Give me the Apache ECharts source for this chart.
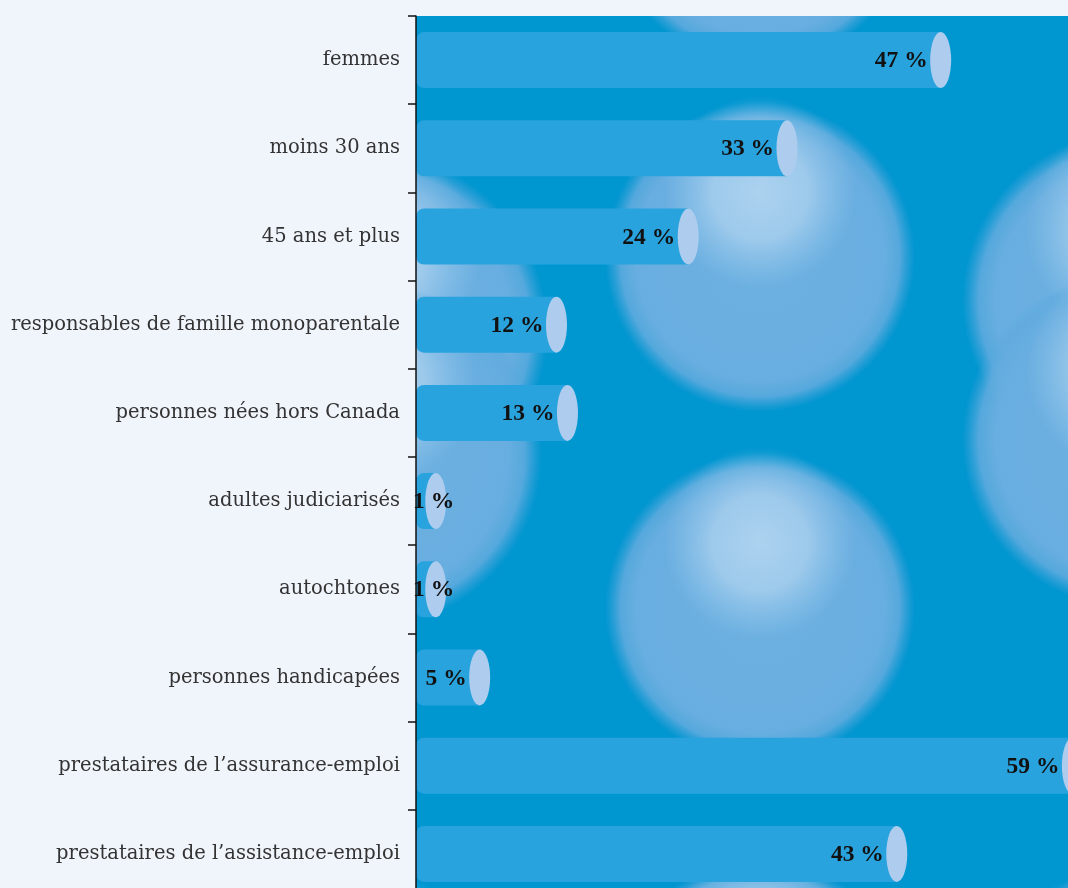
<!DOCTYPE html>
<html>
<head>
<meta charset="utf-8">
<script src="https://cdn.jsdelivr.net/npm/echarts@6/dist/echarts.min.js"></script>
<style>
html,body{margin:0;padding:0;background:#f0f4fb;}
#chart{width:1068px;height:888px;}
</style>
</head>
<body>
<div id="chart"></div>
<script>
const categories = [
  'femmes',
  'moins 30 ans',
  '45 ans et plus',
  'responsables de famille monoparentale',
  'personnes nées hors Canada',
  'adultes judiciarisés',
  'autochtones',
  'personnes handicapées',
  'prestataires de l’assurance-emploi',
  'prestataires de l’assistance-emploi'
];
const values = [47, 33, 24, 12, 13, 1, 1, 5, 59, 43];
const valueSuffix = ' %';

const X_MIN = -0.8, X_MAX = 58.6;
const GRID = {left: 416, right: 0, top: 16, height: 882, outerBoundsMode: 'none', containLabel: false};
const LABEL_FONT = 'bold 23.5px "Liberation Serif"';

const measureCtx = document.createElement('canvas').getContext('2d');
measureCtx.font = LABEL_FONT;

// decorative background spheres (ornamental only)
const spheres = [
  {cx: 760, cy: -90, r: 155},
  {cx: 760, cy: 257, r: 155},
  {cx: 370, cy: 330, r: 178},
  {cx: 370, cy: 455, r: 172},
  {cx: 1130, cy: 300, r: 168},
  {cx: 1130, cy: 440, r: 168},
  {cx: 760, cy: 608, r: 155},
  {cx: 760, cy: 1015, r: 155},
  {cx: 380, cy: 1060, r: 178},
  {cx: 1130, cy: 1040, r: 172}
];

const graphics = [
  {type: 'rect', z: -10, shape: {x: GRID.left, y: GRID.top, width: 1068 - GRID.left, height: 900}, style: {fill: '#0096d0'}}
];
spheres.forEach(s => {
  graphics.push({
    type: 'circle', z: -10,
    shape: {cx: s.cx, cy: s.cy, r: s.r},
    style: {
      fill: {
        type: 'radial', x: 0.5, y: 0.5, r: 0.5,
        colorStops: [
          {offset: 0, color: '#6db1e1'},
          {offset: 0.8, color: '#69aee0'},
          {offset: 0.9, color: 'rgba(100,172,223,0.85)'},
          {offset: 1, color: 'rgba(80,165,220,0)'}
        ]
      }
    }
  });
  graphics.push({
    type: 'circle', z: -10,
    shape: {cx: s.cx, cy: s.cy - s.r * 0.42, r: s.r * 0.62},
    style: {
      fill: {
        type: 'radial', x: 0.5, y: 0.5, r: 0.5,
        colorStops: [
          {offset: 0, color: 'rgba(176,212,240,0.95)'},
          {offset: 0.5, color: 'rgba(170,208,238,0.8)'},
          {offset: 1, color: 'rgba(150,200,236,0)'}
        ]
      }
    }
  });
});
// panels outside the plot area
graphics.push({type: 'rect', z: -10, shape: {x: 0, y: 0, width: GRID.left, height: 888}, style: {fill: '#f0f4fb'}});
graphics.push({type: 'rect', z: -10, shape: {x: 0, y: 0, width: 1068, height: GRID.top}, style: {fill: '#f0f4fb'}});

const chart = echarts.init(document.getElementById('chart'), null, {renderer: 'canvas'});
chart.setOption({
  backgroundColor: '#f0f4fb',
  animation: false,
  graphic: {elements: graphics},
  grid: GRID,
  xAxis: {
    type: 'value', min: X_MIN, max: X_MAX, show: false
  },
  yAxis: {
    type: 'category',
    data: categories,
    inverse: true,
    z: 5,
    axisLine: {show: true, onZero: false, lineStyle: {color: '#111', width: 1.5}},
    axisTick: {show: true, length: 8, lineStyle: {color: '#111', width: 1.5}},
    axisLabel: {
      margin: 16,
      fontFamily: 'DejaVu Serif',
      fontSize: 19.5,
      fontWeight: 'normal',
      color: '#333'
    },
    splitLine: {show: false}
  },
  series: [{
    type: 'custom',
    z: 3,
    data: values.map((v, i) => [v, i]),
    encode: {x: 0, y: 1},
    renderItem: function (params, api) {
      const v = api.value(0);
      const idx = api.value(1);
      const end = api.coord([v, idx]);
      const start = api.coord([X_MIN, idx]);
      const band = api.size([0, 1])[1];
      const h = band * 0.635;
      const ry = h / 2;
      const rx = 10.5;
      const text = v + valueSuffix;
      const tw = measureCtx.measureText(text).width;
      let tx = end[0] - 13 - tw;
      if (tx < start[0] - 3) tx = start[0] - 3;
      return {
        type: 'group',
        children: [
          {type: 'rect', shape: {x: start[0], y: end[1] - ry, width: end[0] - start[0], height: h, r: [8, 0, 0, 8]}, style: {fill: '#29a3de'}},
          {type: 'circle', x: end[0], y: end[1], scaleX: rx / ry, shape: {cx: 0, cy: 0, r: ry}, style: {fill: '#aecdee'}},
          {type: 'text', z2: 10, style: {text: text, x: tx, y: end[1] + 1, align: 'left', verticalAlign: 'middle', font: LABEL_FONT, fill: '#111'}}
        ]
      };
    }
  }]
});
</script>
</body>
</html>
